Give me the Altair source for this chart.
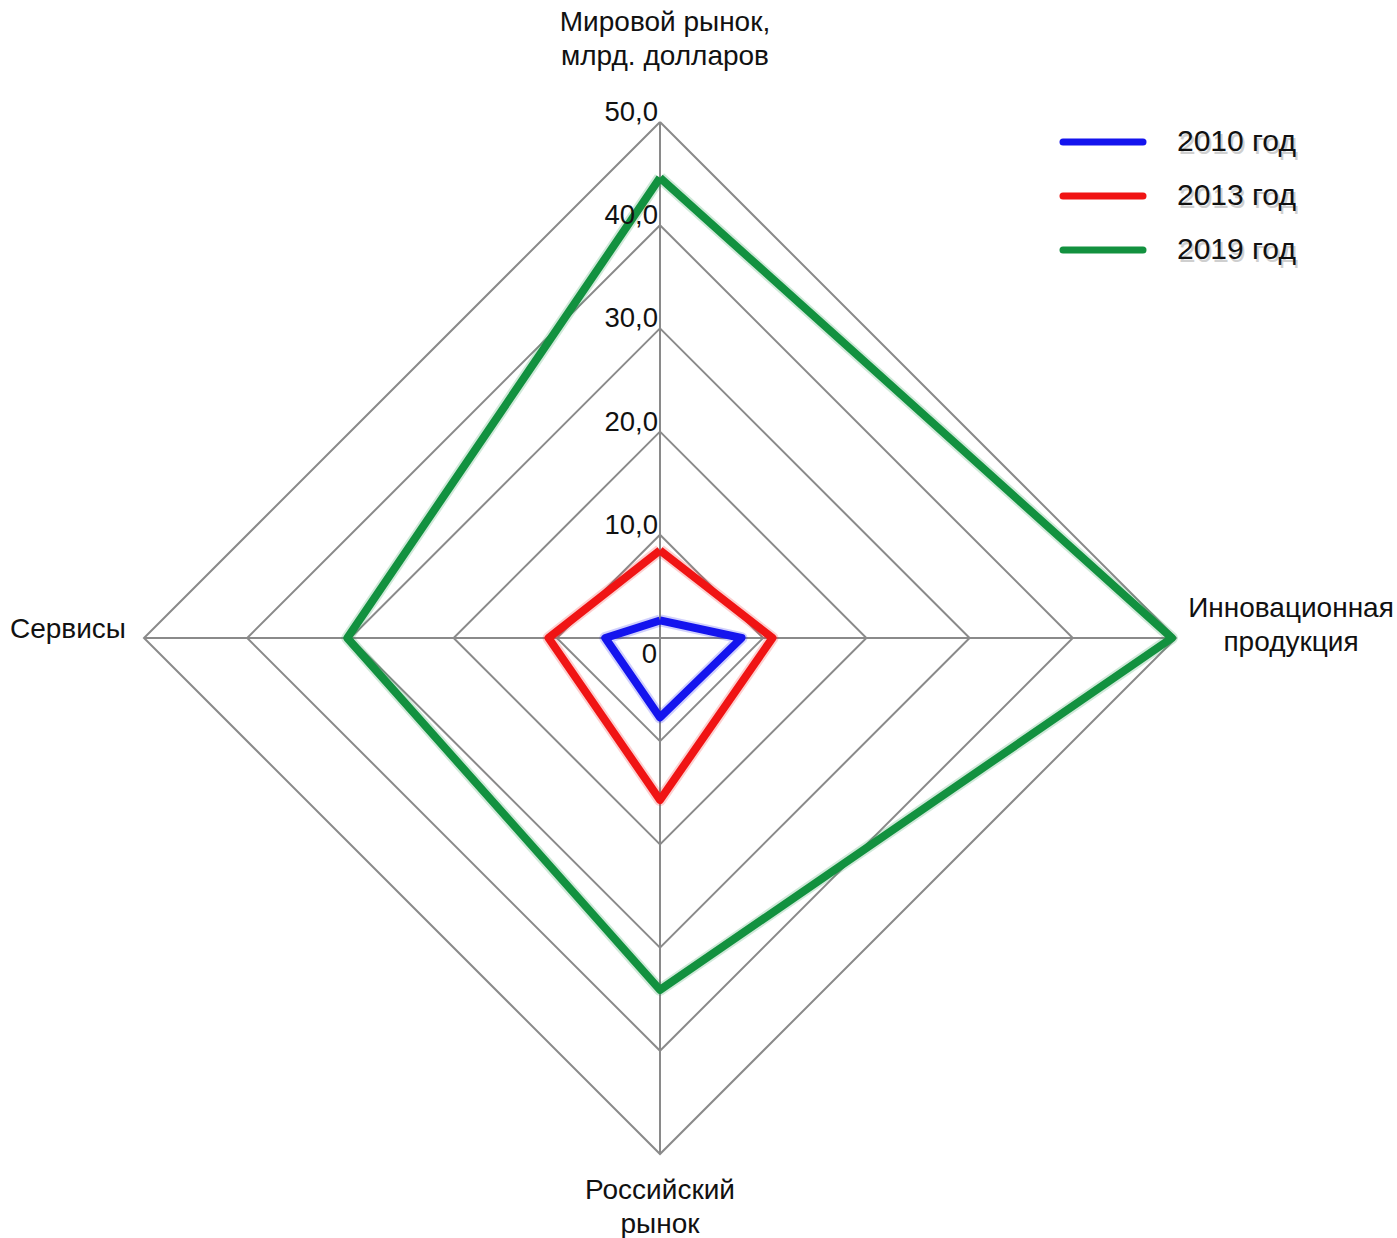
import math
import altair as alt
import pandas as pd

# Radar axes, clockwise from the top
axes = ["Мировой рынок,\nмлрд. долларов", "Инновационная\nпродукция", "Российский\nрынок", "Сервисы"]
axis_angle = [90, 0, -90, 180]

series = ["2010 год", "2013 год", "2019 год"]
colors = ["#1414ee", "#f01414", "#12913f"]
values_2010 = [1.7, 7.9, 7.7, 5.3]
values_2013 = [8.5, 10.9, 15.7, 10.8]
values_2019 = [44.6, 49.6, 34.1, 30.3]

grid_levels = [10, 20, 30, 40, 50]
tick_values = [0, 10, 20, 30, 40, 50]
tick_labels = ["0", "10,0", "20,0", "30,0", "40,0", "50,0"]

W, H = 1397, 1238
CX, CY = 660, 638
RMAX = 50
PX = 516 / RMAX  # pixels per unit

xs = alt.Scale(domain=[-CX / PX, (W - CX) / PX], nice=False, zero=False)
ys = alt.Scale(domain=[-(H - CY) / PX, CY / PX], nice=False, zero=False)


def polar_rows(key, values_by_key):
    rows = []
    for k, vals in values_by_key:
        for i in range(len(axes) + 1):
            j = i % len(axes)
            a = math.radians(axis_angle[j])
            rows.append({key: k, "order": i, "v": vals[j],
                         "x": vals[j] * math.cos(a), "y": vals[j] * math.sin(a)})
    return pd.DataFrame(rows)


series_df = polar_rows("series", zip(series, [values_2010, values_2013, values_2019]))
rings_df = polar_rows("level", [(g, [g] * len(axes)) for g in grid_levels])

spokes_df = pd.DataFrame({
    "axis": axes,
    "x": [0.0] * len(axes),
    "y": [0.0] * len(axes),
    "x2": [RMAX * math.cos(math.radians(a)) for a in axis_angle],
    "y2": [RMAX * math.sin(math.radians(a)) for a in axis_angle],
})

ticks_df = pd.DataFrame({"v": tick_values, "label": tick_labels, "x": [0.0] * len(tick_values)})

X = lambda f: alt.X(f, type="quantitative", scale=xs, axis=None)
Y = lambda f: alt.Y(f, type="quantitative", scale=ys, axis=None)

FONT = "Liberation Sans"

rings = alt.Chart(rings_df).mark_line(color="#8a8a8a", strokeWidth=2).encode(
    x=X("x"), y=Y("y"), detail="level:N", order="order:Q")

spokes = alt.Chart(spokes_df).mark_rule(color="#8a8a8a", strokeWidth=2).encode(
    x=X("x"), y=Y("y"), x2="x2", y2="y2")

color_scale = alt.Scale(domain=series, range=colors)

glow = alt.Chart(series_df).mark_line(strokeWidth=12, opacity=0.2, strokeJoin="round").encode(
    x=X("x"), y=Y("y"), order="order:Q",
    color=alt.Color("series:N", scale=color_scale, legend=None))

lines = alt.Chart(series_df).mark_line(strokeWidth=8, strokeJoin="round").encode(
    x=X("x"), y=Y("y"), order="order:Q",
    color=alt.Color("series:N", scale=color_scale, legend=None))

tick_text = alt.Chart(ticks_df).transform_filter("datum.v > 0").mark_text(
    font=FONT, fontSize=27.5, align="right", baseline="middle", dx=-2, dy=-9, color="#111").encode(
    x=X("x"), y=Y("v"), text="label:N")

zero_text = alt.Chart(ticks_df).transform_filter("datum.v == 0").mark_text(
    font=FONT, fontSize=27.5, align="right", baseline="middle", dx=-3, dy=17, color="#111").encode(
    x=X("x"), y=Y("v"), text="label:N")


def axis_label(idx, **kw):
    d = spokes_df.iloc[[idx]].assign(text=lambda df: df["axis"].str.split("\n"))
    return alt.Chart(d).mark_text(font=FONT, fontSize=28, lineHeight=34, color="#111", **kw).encode(
        x=X("x2"), y=Y("y2"), text="text")


labels = [
    axis_label(0, align="center", baseline="middle", dx=5, dy=-99),
    axis_label(1, align="center", baseline="middle", dx=115, dy=-29),
    axis_label(2, align="center", baseline="middle", dx=0, dy=37),
    axis_label(3, align="right", baseline="middle", dx=-18, dy=-8),
]

legend_df = pd.DataFrame({"series": series})
leg_y = alt.Y("series:N", scale=alt.Scale(type="point", domain=series, range=[142, 250], padding=0), axis=None)

legend_lines = alt.Chart(legend_df).mark_rule(strokeWidth=7, strokeCap="round").encode(
    x=alt.value(1063), x2=alt.value(1143), y=leg_y,
    color=alt.Color("series:N", scale=color_scale, legend=None))

legend_shadow = alt.Chart(legend_df).mark_text(
    font=FONT, fontSize=30, align="left", baseline="middle", color="#888", opacity=0.4, dx=2, dy=3).encode(
    x=alt.value(1177), y=leg_y, text="series:N")

legend_text = alt.Chart(legend_df).mark_text(
    font=FONT, fontSize=30, align="left", baseline="middle", color="#111").encode(
    x=alt.value(1177), y=leg_y, text="series:N")

chart = alt.layer(
    rings, spokes, glow, lines, tick_text, zero_text, *labels,
    legend_lines, legend_shadow, legend_text,
).resolve_scale(y="independent", color="shared").properties(
    width=W, height=H, padding=0, autosize=alt.AutoSizeParams(type="none"),
).configure_view(stroke=None)

chart.save("out.html", embed_options={"renderer": "svg", "actions": False})
